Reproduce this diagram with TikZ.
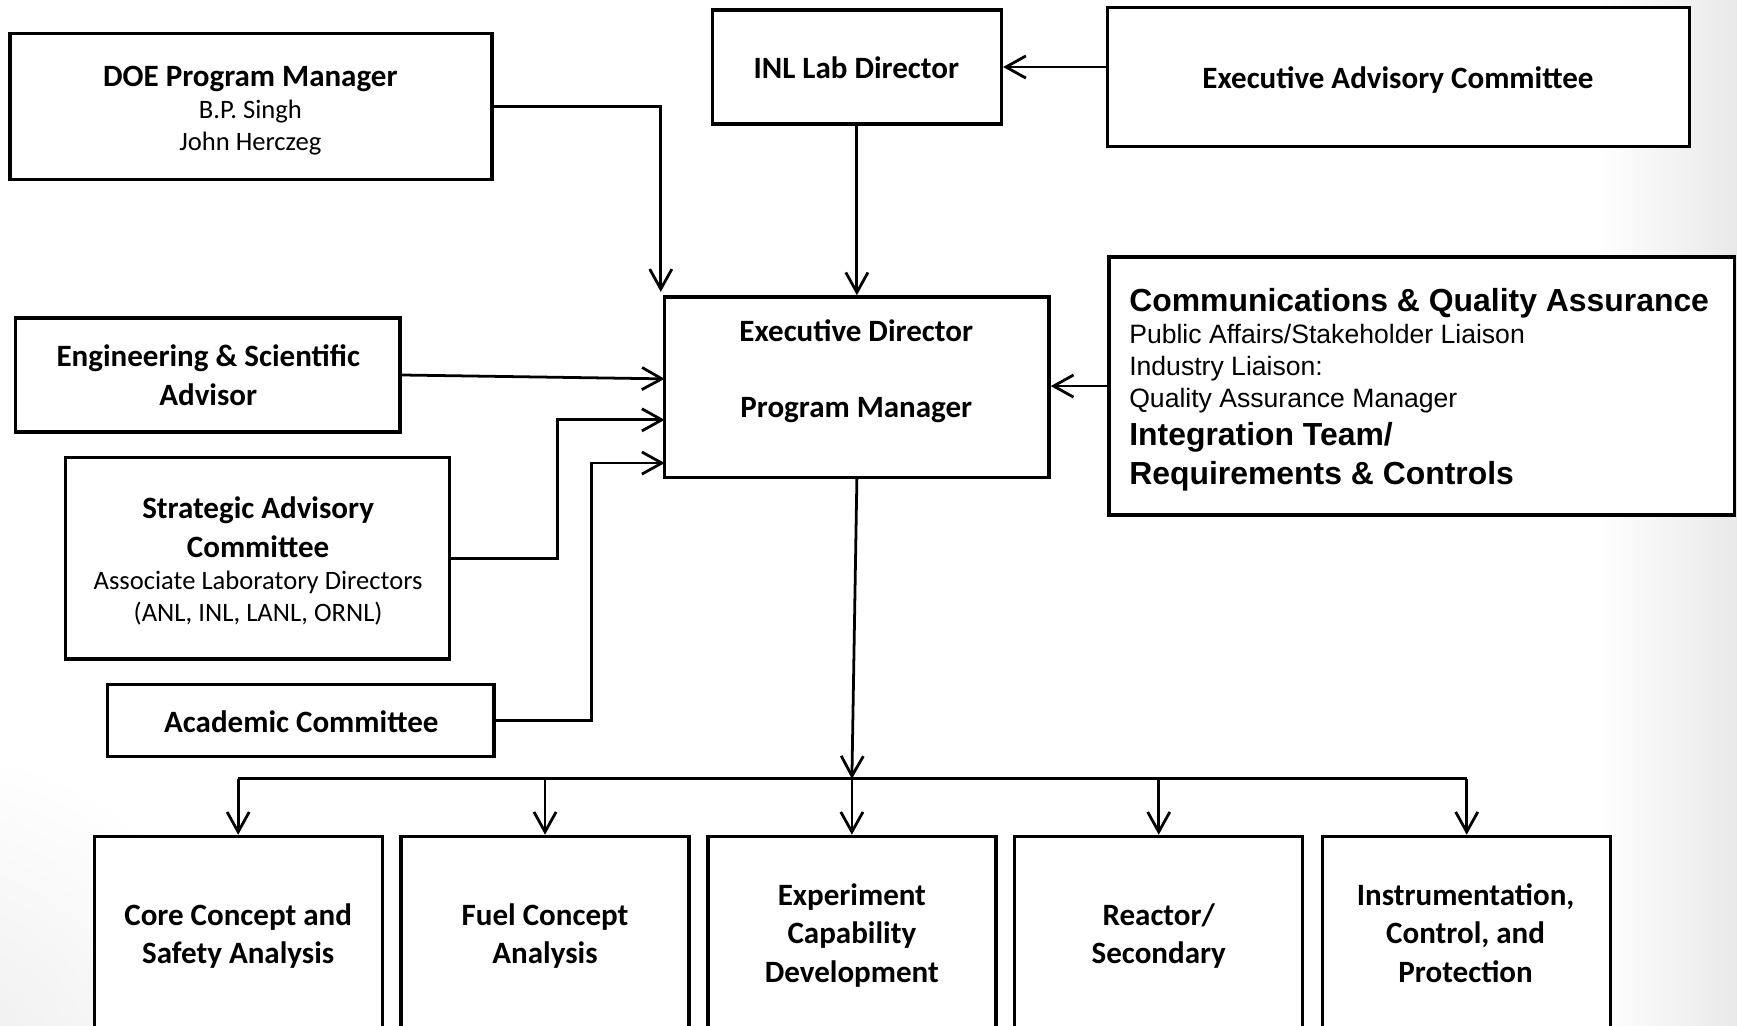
\documentclass[tikz,border=0pt]{standalone}
\usepackage{fontspec}
\setmainfont{Carlito}
\newfontfamily\arialf{Liberation Sans}
\usetikzlibrary{arrows.meta,calc,fit}
\begin{document}
\begin{tikzpicture}[x=0.5pt,y=-0.5pt,
  box/.style={draw, line width=1.5pt, inner sep=0pt, fill=white},
  conn/.style={line width=1.25pt, -{Straight Barb[length=9pt,width=10pt,line width=1.25pt]}},
  plain/.style={line width=1.4pt},
  ttl/.style={anchor=base, inner sep=0pt, font=\fontsize{14}{17}\selectfont\bfseries},
  sub/.style={anchor=base, inner sep=0pt, font=\fontsize{12}{14}\selectfont},
  cttl/.style={anchor=base west, inner sep=0pt, font=\arialf\fontsize{14.4}{17}\selectfont\bfseries},
  csub/.style={anchor=base west, inner sep=0pt, font=\arialf\fontsize{12}{14}\selectfont}]
\useasboundingbox (0,0) rectangle (1568,926);
\clip (0,0) rectangle (1568,926);
% background tint
\fill[white] (0,0) rectangle (1568,926);
\shade[left color=white, right color=black!9] (1440,-5) rectangle (1575,935);
\shade[inner color=black!8, outer color=white] (-80,1000) circle (330);

% boxes
\node[box, fit={(9,30) (444,162)}] (doe) {};
\node[box, fit={(643,9) (904,112)}] (inl) {};
\node[box, fit={(1000,7) (1525,132)}] (eac) {};
\node[box, fit={(600,268) (947,431)}] (ed) {};
\node[box, fit={(1001,232) (1566,465)}] (comms) {};
\node[box, fit={(14,287) (361,390)}] (eng) {};
\node[box, fit={(59,413) (406,595)}] (sac) {};
\node[box, fit={(97,618) (446,683)}] (acad) {};
\node[box, fit={(85,755) (345,960)}] (b1) {};
\node[box, fit={(362,755) (622,960)}] (b2) {};
\node[box, fit={(639,755) (899,960)}] (b3) {};
\node[box, fit={(916,755) (1176,960)}] (b4) {};
\node[box, fit={(1194,755) (1454,960)}] (b5) {};

% texts
\node[ttl] (t1) at (226,78) {DOE Program Manager};
\node[sub] (t2) at (226,107) {B.P. Singh};
\node[sub] (t3) at (226,136) {John Herczeg};
\node[ttl] (t4) at (773,71) {INL Lab Director};
\node[ttl] (t5) at (1262,80) {Executive Advisory Committee};
\node[ttl] (t6) at (773,308) {Executive Director};
\node[ttl] (t7) at (773,377) {Program Manager};
\node[cttl] (t8) at (1019,281) {Communications \& Quality Assurance};
\node[csub] (t9) at (1019,310) {Public Affairs/Stakeholder Liaison};
\node[csub] (t10) at (1019,339) {Industry Liaison:};
\node[csub] (t11) at (1019,368) {Quality Assurance Manager};
\node[cttl] (t12) at (1019,402) {Integration Team/};
\node[cttl] (t13) at (1019,437) {Requirements \& Controls};
\node[ttl] (t14) at (188,331) {Engineering \& Scientific};
\node[ttl] (t15) at (188,366) {Advisor};
\node[ttl] (t16) at (233,468) {Strategic Advisory};
\node[ttl] (t17) at (233,503) {Committee};
\node[sub] (t18) at (233,532) {Associate Laboratory Directors};
\node[sub] (t19) at (233,561) {(ANL, INL, LANL, ORNL)};
\node[ttl] (t20) at (272,661) {Academic Committee};
\node[ttl] (t21) at (215,835) {Core Concept and};
\node[ttl] (t22) at (215,870) {Safety Analysis};
\node[ttl] (t23) at (492,835) {Fuel Concept};
\node[ttl] (t24) at (492,870) {Analysis};
\node[ttl] (t25) at (769,817) {Experiment};
\node[ttl] (t26) at (769,852) {Capability};
\node[ttl] (t27) at (769,887) {Development};
\node[ttl] (t28) at (1046,835) {Reactor/};
\node[ttl] (t29) at (1046,870) {Secondary};
\node[ttl] (t30) at (1323,817) {Instrumentation,};
\node[ttl] (t31) at (1323,852) {Control, and};
\node[ttl] (t32) at (1323,887) {Protection};

% helper coordinates
\coordinate (doein) at ($(ed.north west)+(-2,-3)$);
\coordinate (edin1) at (600,342);
\coordinate (edin2) at (600,379);
\coordinate (edin3) at (600,418);
\coordinate (jog1) at (503,0);
\coordinate (jog2) at (534,0);
\coordinate (bus) at (769,703);

% connectors
\draw[conn] (doe.east) -| (doein);
\draw[conn] (inl.south) -- (ed.north);
\draw[conn] (eac.west |- inl.east) -- (inl.east);
\draw[conn] (comms.west) -- (comms.west -| ed.east);
\draw[conn] (eng.east) -- (edin1);
\draw[conn] (sac.east) -- (sac.east -| jog1) |- (edin2);
\draw[conn] (acad.east) -- (acad.east -| jog2) |- (edin3);
\draw[conn] (ed.south) -- (bus);
\draw[plain] (b1.north |- bus) -- (b5.north |- bus);
\foreach \b in {b1,b2,b3,b4,b5}
  \draw[conn] (\b.north |- bus) -- (\b.north);
\end{tikzpicture}
\end{document}
